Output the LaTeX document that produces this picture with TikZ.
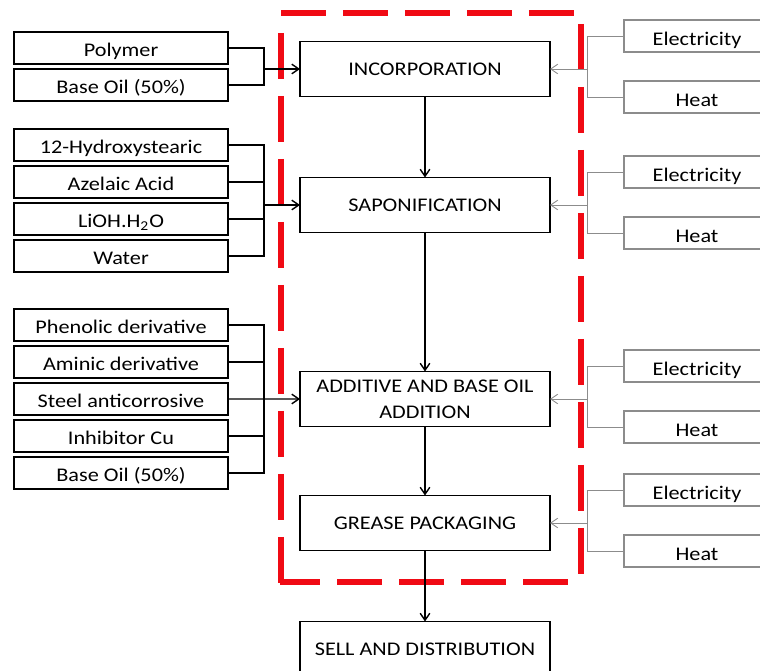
\documentclass[tikz,border=0pt]{standalone}
\usepackage{fontspec}
\setmainfont{Carlito}[FakeStretch=1.15]
\usetikzlibrary{positioning,arrows.meta}
\definecolor{cbound}{HTML}{F00A14}
\definecolor{cgrey}{HTML}{8C8C8C}
\tikzset{
  inputbox/.style={draw, line width=1.1pt, outer sep=0pt, inner sep=0pt,
    minimum width=4.28cm, minimum height=0.64cm, text height=10pt, text depth=0pt,
    font=\fontsize{11}{13}\selectfont},
  stagebox/.style={draw, line width=1.1pt, outer sep=0pt, align=center,
    minimum width=5cm, minimum height=1.1cm, font=\fontsize{11}{15}\selectfont},
  energybox/.style={draw=cgrey, line width=0.6pt, outer sep=0pt, inner sep=0pt,
    minimum width=2.92cm, minimum height=0.64cm, text height=11pt, text depth=0pt,
    font=\fontsize{11}{13}\selectfont},
  feedline/.style={line width=0.8pt},
  flowarrow/.style={-{Straight Barb[length=4pt,width=5.5pt]}, line width=0.8pt},
  energyline/.style={draw=cgrey, line width=0.5pt},
  energyarrow/.style={-{Straight Barb[length=4pt,width=5.5pt]}, cgrey, line width=0.5pt},
  boundary/.style={cbound, line width=3pt, dash pattern=on 0.9cm off 0.34cm},
  sideboundary/.style={cbound, line width=3pt, dash pattern=on 0.92cm off 0.34cm}
}

\begin{document}
\begin{tikzpicture}[x=0.02cm, y=-0.02cm]
  \useasboundingbox (0,0) rectangle (760,671);

  % system boundary
  \draw[boundary] (281,13) -- (581,13);
  \draw[sideboundary] (581,24) -- (581,574);
  \draw[sideboundary] (281,33) -- (281,583.5);
  \draw[boundary, dash phase=0.08cm] (279.5,582) -- (574,582);

  % process stages
  \node[stagebox] (inc) at (425,69) {INCORPORATION};
  \node[stagebox] (sap) at (425,205) {SAPONIFICATION};
  \node[stagebox] (add) at (425,399) {ADDITIVE AND BASE OIL\\ADDITION};
  \node[stagebox] (pack) at (425,523) {GREASE PACKAGING};
  \node[stagebox] (sell) at (425,649) {SELL AND DISTRIBUTION};

  \draw[flowarrow] (inc) -- (sap);
  \draw[flowarrow] (sap) -- (add);
  \draw[flowarrow] (add) -- (pack);
  \draw[flowarrow] (pack) -- (sell);

  % raw materials
  \node[inputbox] (poly) at (121,48) {Polymer};
  \node[inputbox, below=0.1cm of poly] (oilA) {Base Oil (50\%)};

  \node[inputbox] (hyd) at (121,145) {12-Hydroxystearic};
  \node[inputbox, below=0.1cm of hyd] (aze) {Azelaic Acid};
  \node[inputbox, below=0.1cm of aze] (lioh) {LiOH.H\textsubscript{2}O};
  \node[inputbox, below=0.1cm of lioh] (water) {Water};

  \node[inputbox] (phen) at (121,325) {Phenolic derivative};
  \node[inputbox, below=0.1cm of phen] (amin) {Aminic derivative};
  \node[inputbox, below=0.1cm of amin] (steel) {Steel anticorrosive};
  \node[inputbox, below=0.1cm of steel] (inhib) {Inhibitor Cu};
  \node[inputbox, below=0.1cm of inhib] (oilB) {Base Oil (50\%)};

  \coordinate (jinc) at (264,69);
  \draw[feedline] (poly.east) -| (jinc);
  \draw[feedline] (oilA.east) -| (jinc);
  \draw[flowarrow] (jinc) -- (inc.west);

  \coordinate (jsap) at (264,205);
  \draw[feedline] (hyd.east) -| (jsap);
  \draw[feedline] (aze.east) -| (jsap);
  \draw[feedline] (lioh.east) -| (jsap);
  \draw[feedline] (water.east) -| (jsap);
  \draw[flowarrow] (jsap) -- (sap.west);

  \coordinate (jadd) at (264,399);
  \draw[feedline] (phen.east) -| (jadd);
  \draw[feedline] (amin.east) -| (jadd);
  \draw[feedline] (inhib.east) -| (jadd);
  \draw[feedline] (oilB.east) -| (jadd);
  \draw[flowarrow] (steel.east) -- (add.west);

  % energy inputs
  \node[energybox] (elecA) at (697,36) {Electricity};
  \node[energybox, below=0.58cm of elecA] (heatA) {Heat};
  \node[energybox] (elecB) at (697,172) {Electricity};
  \node[energybox, below=0.58cm of elecB] (heatB) {Heat};
  \node[energybox] (elecC) at (697,366) {Electricity};
  \node[energybox, below=0.58cm of elecC] (heatC) {Heat};
  \node[energybox] (elecD) at (697,490) {Electricity};
  \node[energybox, below=0.58cm of elecD] (heatD) {Heat};

  \coordinate (kinc) at (587,69);
  \draw[energyline] (elecA.west) -| (kinc);
  \draw[energyline] (heatA.west) -| (kinc);
  \draw[energyarrow] (kinc) -- (inc.east);

  \coordinate (ksap) at (587,205);
  \draw[energyline] (elecB.west) -| (ksap);
  \draw[energyline] (heatB.west) -| (ksap);
  \draw[energyarrow] (ksap) -- (sap.east);

  \coordinate (kadd) at (587,399);
  \draw[energyline] (elecC.west) -| (kadd);
  \draw[energyline] (heatC.west) -| (kadd);
  \draw[energyarrow] (kadd) -- (add.east);

  \coordinate (kpack) at (587,523);
  \draw[energyline] (elecD.west) -| (kpack);
  \draw[energyline] (heatD.west) -| (kpack);
  \draw[energyarrow] (kpack) -- (pack.east);
\end{tikzpicture}
\end{document}
